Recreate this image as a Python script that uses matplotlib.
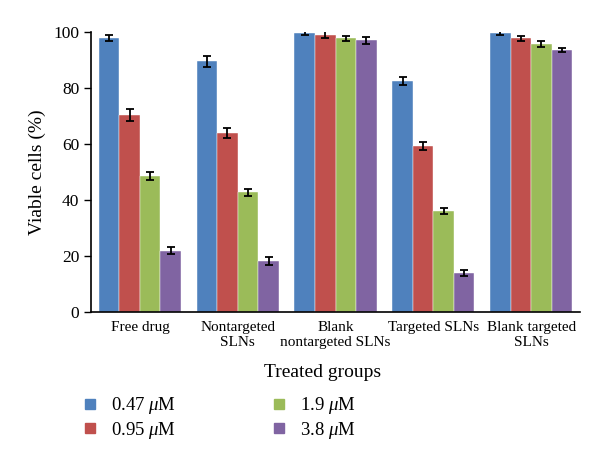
import matplotlib
matplotlib.use("Agg")
import matplotlib.pyplot as plt
from matplotlib.lines import Line2D
import numpy as np

plt.rcParams['font.family'] = ['Liberation Serif', 'DejaVu Serif']
plt.rcParams['mathtext.fontset'] = 'custom'
plt.rcParams['mathtext.rm'] = 'Liberation Serif'
plt.rcParams['mathtext.it'] = 'Liberation Serif:italic'

groups = ["Free drug", "Nontargeted\nSLNs", "Blank\nnontargeted SLNs",
          "Targeted SLNs", "Blank targeted\nSLNs"]
series = ["0.47 $\\mu$M", "0.95 $\\mu$M", "1.9 $\\mu$M", "3.8 $\\mu$M"]
colors = ["#4F81BD", "#C0504D", "#9BBB59", "#8064A2"]

# viable cells (%) per concentration, one value per group
v047 = [97.7, 89.4, 99.7, 82.3, 99.7]
v095 = [70.2, 63.8, 98.9, 59.2, 97.7]
v19 = [48.5, 42.6, 97.7, 35.9, 95.6]
v38 = [21.8, 18.2, 96.9, 13.9, 93.5]
values = [v047, v095, v19, v38]

e047 = [1.1, 1.9, 0.8, 1.5, 0.8]
e095 = [2.2, 1.8, 1.2, 1.5, 0.9]
e19 = [1.4, 1.4, 0.9, 1.0, 1.1]
e38 = [1.2, 1.4, 1.2, 1.1, 0.6]
errors = [e047, e095, e19, e38]

fig = plt.figure(figsize=(6, 4.59), dpi=100)
ax = fig.add_axes([0.1517, 0.3209, 0.815, 0.61])

x = np.arange(len(groups))
w = 0.21
for i in range(4):
    ax.bar(x + (i - 1.5) * w, values[i], w, color=colors[i],
           edgecolor="white", linewidth=0.3,
           yerr=errors[i], error_kw=dict(ecolor="black", elinewidth=1.3,
                                         capsize=2.6, capthick=1.3))

ax.set_xlim(-0.5, 4.5)
ax.set_ylim(0, 100)
ax.set_yticks([0, 20, 40, 60, 80, 100])
ax.set_xticks(x)
ax.set_xticklabels(groups, fontsize=11, linespacing=1.2)
ax.tick_params(axis='x', length=0, pad=7)
ax.tick_params(axis='y', labelsize=12.5, length=5, width=1, direction='out')
for s in ["top", "right"]:
    ax.spines[s].set_visible(False)
for s in ["left", "bottom"]:
    ax.spines[s].set_linewidth(1.2)

ax.set_ylabel("Viable cells (%)", fontsize=14, labelpad=5)
fig.text(0.538, 0.188, "Treated groups", fontsize=14, ha="center", va="center")

handles = [Line2D([], [], marker='s', linestyle='none', markersize=6.5,
                  markerfacecolor=c, markeredgecolor=c) for c in colors]
fig.legend(handles, series, ncol=2, loc="upper left",
           bbox_to_anchor=(0.135, 0.139), frameon=False, fontsize=13.5,
           handletextpad=0.6, columnspacing=5.0, labelspacing=0.2,
           borderaxespad=0, borderpad=0, handlelength=1.0)

fig.savefig("out.png", dpi=100)
